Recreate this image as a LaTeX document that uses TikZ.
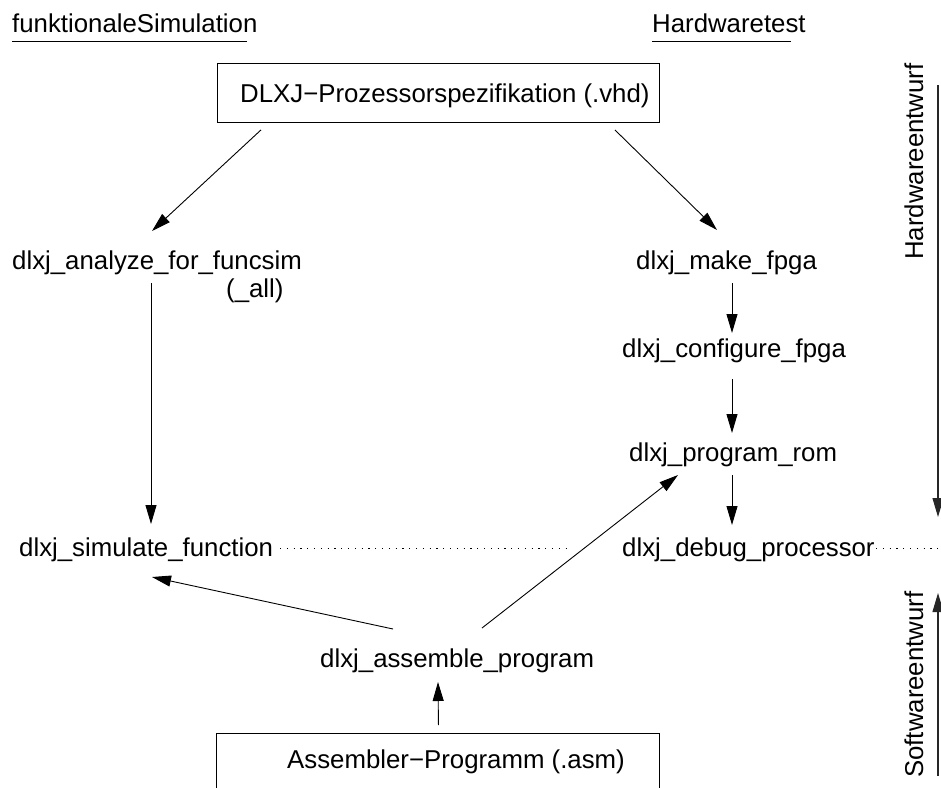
\documentclass[tikz,border=0pt]{standalone}
\usepackage{fontspec}
\setmainfont{Liberation Sans}
\usetikzlibrary{arrows.meta}
\begin{document}
\begin{tikzpicture}[x=1pt,y=-1pt,
  lbl/.style={inner sep=0pt,anchor=base west,font=\fontsize{25.8pt}{30pt}\selectfont},
  boxnode/.style={draw,line width=0.9pt,inner sep=0pt,anchor=north west},
  conn/.style={line width=0.9pt,-{Triangle[length=19pt,width=11pt]}},
  plain/.style={line width=0.9pt},
  dotline/.style={line width=1pt,dash pattern=on 1.2pt off 5.6pt},
  side/.style={line width=1.1pt,draw=black!85,-{Triangle[length=19pt,width=11pt]}}]
\useasboundingbox (0,0) rectangle (941,787);
\clip (0,0) rectangle (941,787);
% titles
\node[lbl] (t1) at (12,32) {funktionaleSimulation};
\node[lbl] (t2) at (652,32) {Hardwaretest};
\draw[plain] ([shift={(0,9)}]t1.base west) -- ([shift={(235,9)}]t1.base west);
\draw[plain] ([shift={(0,9)}]t2.base west) -- ([shift={(139,9)}]t2.base west);
% spec box
\node[boxnode,minimum width=442pt,minimum height=59pt] (spec) at (217,63) {};
\node[lbl] (spect) at (240,102) {DLXJ−Prozessorspezifikation (.vhd)};
% left column
\node[lbl] (ana) at (12,269) {dlxj\_analyze\_for\_funcsim};
\node[lbl] (all) at (226,297) {(\_all)};
\node[lbl] (sim) at (19,556) {dlxj\_simulate\_function};
% right column
\node[lbl] (make) at (636,269) {dlxj\_make\_fpga};
\node[lbl] (conf) at (622,357) {dlxj\_configure\_fpga};
\node[lbl] (prog) at (629,461) {dlxj\_program\_rom};
\node[lbl] (debug) at (622,556) {dlxj\_debug\_processor};
% bottom
\node[lbl] (asm) at (320,667) {dlxj\_assemble\_program};
\node[boxnode,minimum width=443pt,minimum height=80pt] (asmbox) at (216,733) {};
\node[lbl] (asmt) at (287,768) {Assembler−Programm (.asm)};
% side labels
\node[lbl,rotate=90] (hw) at (923,260) {Hardwareentwurf};
\node[lbl,rotate=90] (sw) at (923,778) {Softwareentwurf};
\coordinate (hwtop) at (938,85);
\coordinate (hwbot) at (938,517);
\coordinate (swbot) at (938,776);
\coordinate (swtop) at (938,593);
\coordinate (edge) at (941,548);
% connectors
\draw[conn] ([shift={(44,7)}]spec.south west) -- ([shift={(140,-38)}]ana.base west);
\draw[conn] ([shift={(-45,7)}]spec.south east) -- ([shift={(81,-39)}]make.base west);
\draw[conn] ([shift={(139,14)}]ana.base west) -- ([shift={(132,-32)}]sim.base west);
\draw[conn] ([shift={(96,14)}]make.base west) -- ([shift={(96,-24)}]make.base west |- conf.base west);
\draw[conn] ([shift={(110,22)}]conf.base west) -- ([shift={(110,-28)}]conf.base west |- prog.base west);
\draw[conn] ([shift={(103,14)}]prog.base west) -- ([shift={(110,-31)}]debug.base west);
\draw[conn] ([shift={(73,-38)}]asm.base west) -- ([shift={(133,21)}]sim.base west);
\draw[conn] ([shift={(162,-39)}]asm.base west) -- ([shift={(49,14)}]prog.base west);
\draw[conn] ([shift={(0.5,-8)}]asmbox.north) -- ([shift={(118,15)}]asm.base west);
\draw[dotline] ([shift={(261,-8)}]sim.base west) -- ([shift={(-54,-8)}]debug.base west);
\draw[dotline] ([shift={(254,-8)}]debug.base west) -- (edge);
\draw[side] (hwtop) -- (hwbot);
\draw[side] (swbot) -- (swtop);
\end{tikzpicture}
\end{document}
